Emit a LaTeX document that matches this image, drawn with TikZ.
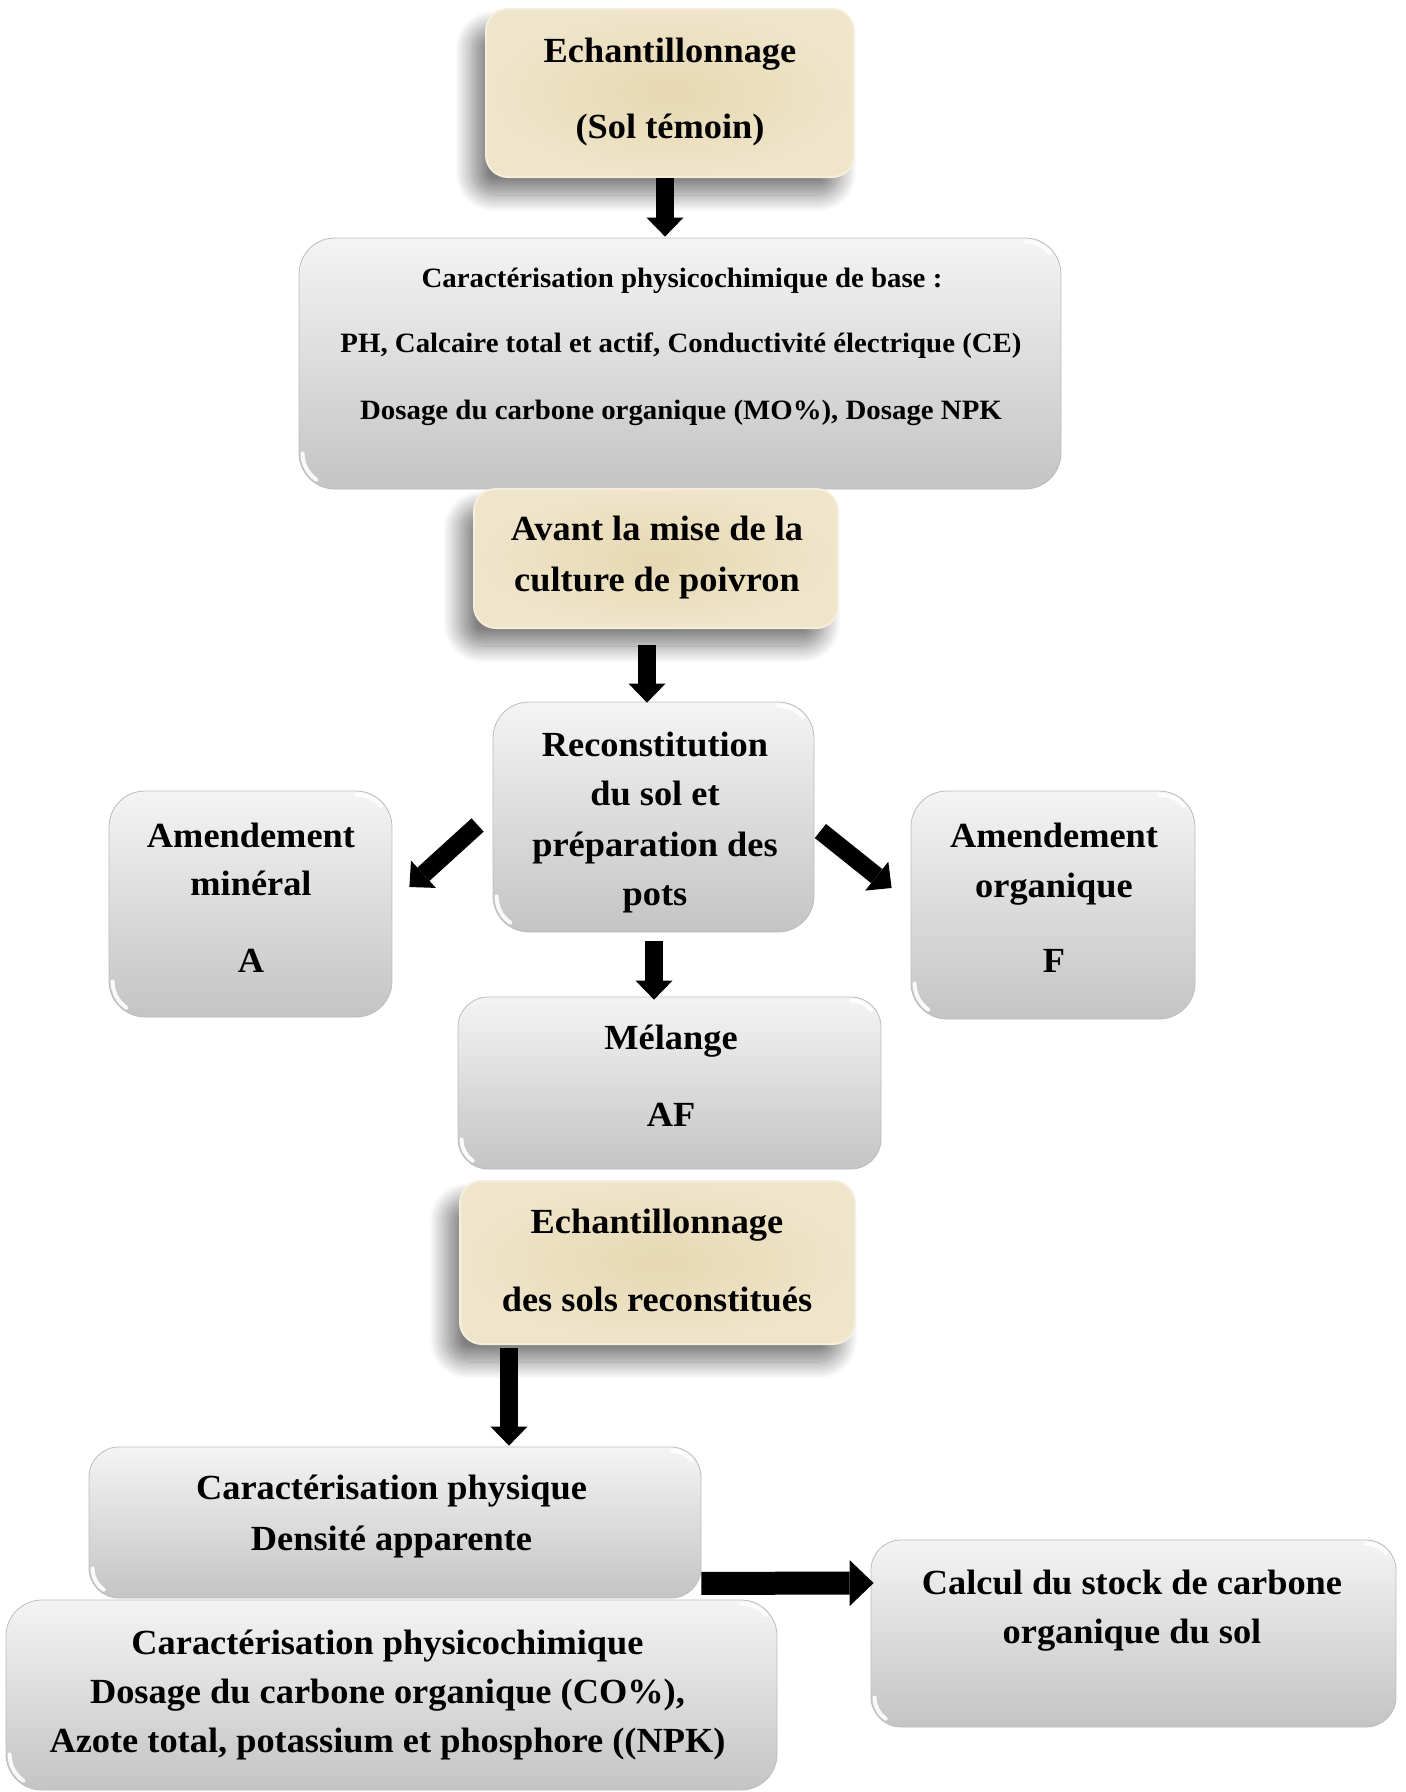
\documentclass[tikz,border=0pt]{standalone}
\usepackage{fontspec}
\setmainfont{Liberation Serif}[FakeStretch=1.03]
\usetikzlibrary{arrows.meta,calc,shadows.blur}

\definecolor{tanin}{RGB}{231,216,178}
\definecolor{tanout}{RGB}{239,229,203}
\definecolor{tanrim}{RGB}{245,238,218}
\definecolor{greytop}{RGB}{244,244,244}
\definecolor{greybot}{RGB}{196,196,196}
\definecolor{greyedge}{RGB}{188,188,188}

\tikzset{
  greybox/.style={rectangle, rounded corners=30pt, inner sep=0pt,
    top color=greytop, bottom color=greybot, draw=greyedge, line width=0.8pt},
  tanbox/.style={rectangle, rounded corners=22pt, inner sep=0pt,
    inner color=tanin, outer color=tanout, draw=tanrim, line width=2pt,
    blur shadow={shadow xshift=-14pt, shadow yshift=-18pt,
      shadow blur radius=17pt, shadow blur steps=24, shadow opacity=50}},
  glint/.style={white, line width=4pt, line cap=round, opacity=0.9},
  txt/.style={anchor=base, inner sep=0pt,
    font=\fontsize{35.3}{40}\selectfont\bfseries},
  txtsmall/.style={anchor=base, inner sep=0pt,
    font=\fontsize{28}{32}\selectfont\bfseries},
  flowarrow/.style={draw=black, line width=18pt,
    -{Triangle[width=37pt,length=19pt,line width=0pt]}},
  widearrow/.style={draw=black, line width=23pt,
    -{Triangle[width=46pt,length=24pt,line width=0pt]}},
}

\begin{document}
\begin{tikzpicture}[x=1pt,y=-1pt]
\useasboundingbox (0,0) rectangle (1406,1792);

% ---- boxes ----
\node[tanbox, minimum width=368pt, minimum height=168pt] (b1) at (670,93) {};
\node[greybox, rounded corners=36pt, minimum width=762pt, minimum height=251pt] (b2) at (680,363.5) {};
\node[tanbox, minimum width=364pt, minimum height=139pt] (b3) at (656,558.5) {};
\node[greybox, rounded corners=36pt, minimum width=321pt, minimum height=230pt] (b4) at (653.5,817) {};
\node[greybox, rounded corners=36pt, minimum width=283pt, minimum height=226pt] (bA) at (250.5,904) {};
\node[greybox, rounded corners=36pt, minimum width=284pt, minimum height=228pt] (bF) at (1053,905) {};
\node[greybox, minimum width=423pt, minimum height=172pt] (mel) at (669.5,1083) {};
\node[tanbox, minimum width=395pt, minimum height=163pt] (e2) at (657.5,1262.5) {};
\node[greybox, minimum width=612pt, minimum height=151pt] (cp) at (395,1522.5) {};
\node[greybox, rounded corners=36pt, minimum width=771pt, minimum height=190pt] (pc) at (391.5,1695) {};
\node[greybox, minimum width=525pt, minimum height=187pt] (calc) at (1133.5,1633.5) {};

% ---- bevel highlights on the grey boxes (bottom-left and top-right corners) ----
\foreach \n/\r in {b2/36, b4/36, bA/36, bF/36, mel/30, cp/30, pc/36, calc/30} {
  \draw[glint] ($(\n.south west)+(4,-\r)$) arc[start angle=180, end angle=125, radius=\r-4];
  \draw[glint] ($(\n.north east)+(-\r,4)$) arc[start angle=270, end angle=320, radius=\r-4];
}

% ---- texts ----
\node[txt] (t1a) at (670,62) {Echantillonnage};
\node[txt] (t1b) at (670,138) {(Sol témoin)};

\node[txtsmall] (t2a) at (682,287) {Caractérisation physicochimique de base :};
\node[txtsmall] (t2b) at (681,352) {PH, Calcaire total et actif, Conductivité électrique (CE)};
\node[txtsmall] (t2c) at (681,419) {Dosage du carbone organique (MO\%), Dosage NPK};

\node[txt] (t3a) at (657,540) {Avant la mise de la};
\node[txt] (t3b) at (657,591) {culture de poivron};

\node[txt] (t4a) at (655,756) {Reconstitution};
\node[txt] (t4b) at (655,805) {du sol et};
\node[txt] (t4c) at (655,856) {préparation des};
\node[txt] (t4d) at (655,905) {pots};

\node[txt] (tAa) at (251,847) {Amendement};
\node[txt] (tAb) at (251,895) {minéral};
\node[txt] (tAc) at (251,972) {A};

\node[txt] (tFa) at (1054,847) {Amendement};
\node[txt] (tFb) at (1054,897) {organique};
\node[txt] (tFc) at (1054,972) {F};

\node[txt] (tMa) at (671,1049) {Mélange};
\node[txt] (tMb) at (671,1126) {AF};

\node[txt] (tEa) at (657,1233) {Echantillonnage};
\node[txt] (tEb) at (657,1311) {des sols reconstitués};

\node[txt] (tPa) at (391.5,1499) {Caractérisation physique};
\node[txt] (tPb) at (391.5,1550) {Densité apparente};

\node[txt] (tCa) at (387.5,1654) {Caractérisation physicochimique};
\node[txt] (tCb) at (387.5,1703) {Dosage du carbone organique (CO\%),};
\node[txt] (tCc) at (387.5,1752) {Azote total, potassium et phosphore ((NPK)};

\node[txt] (tSa) at (1132,1594) {Calcul du stock de carbone};
\node[txt] (tSb) at (1132,1643) {organique du sol};

% ---- connectors ----
\draw[flowarrow] ($(b1.south)+(-5,0)$) -- ($(b2.north)+(-15,-1)$);
\draw[flowarrow] ($(b3.south)+(-9,16)$) -- ($(b4.north)+(-6.5,1)$);
\draw[flowarrow] ($(b4.west)+(-15,8)$) -- ($(bA.east)+(17,-17)$);
\draw[flowarrow] ($(b4.east)+(6,14)$) -- ($(bF.west)+(-19,-17)$);
\draw[flowarrow] ($(b4.south)+(0.5,9)$) -- ($(mel.north)+(-15.5,3)$);
\draw[flowarrow] ($(e2.south)+(-148.5,3)$) -- ($(cp.north)+(114,-1)$);
\draw[widearrow] ($(cp.south east)+(0,-15)$) -- ($(calc.west)+(3,-50.5)$);
\end{tikzpicture}
\end{document}
